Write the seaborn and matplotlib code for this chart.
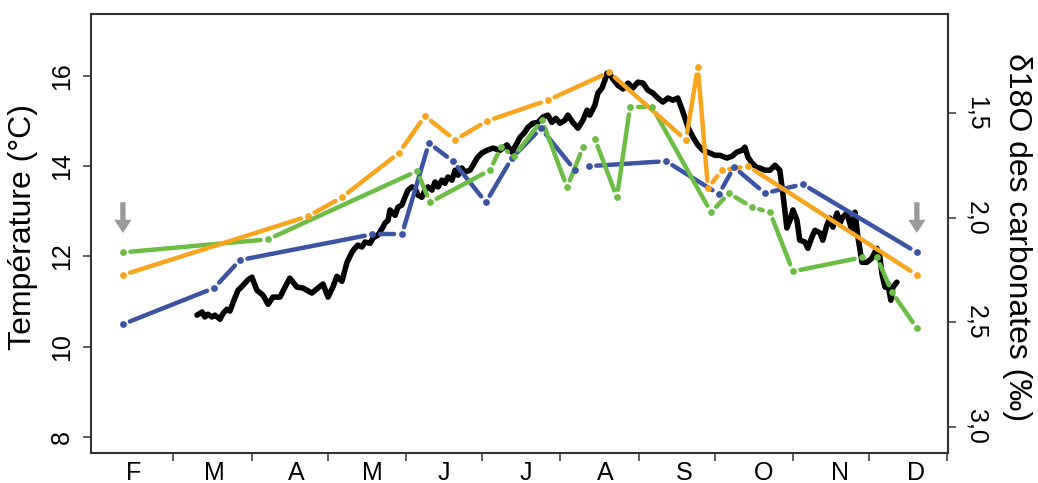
import numpy as np
import pandas as pd
import matplotlib
matplotlib.use("Agg")
import matplotlib.pyplot as plt
from matplotlib.patches import FancyArrowPatch
import seaborn as sns

# x: day of year (1 Jan = 0), y: temperature (°C)
black_day = [68.3, 70.3, 71.4, 72.6, 74.2, 75.4, 77.4, 78.6, 80.1, 81.3,
             82.9, 84.5, 86.5, 88.4, 90.0, 92.0, 94.4, 96.4, 98.3, 101.1,
             103.1, 105.0, 107.8, 110.2, 113.7, 115.7, 118.1, 120.1, 122.0, 123.6,
             125.6, 127.6, 129.6, 130.7, 131.9, 133.5, 134.7, 136.7, 137.9, 139.8,
             141.8, 142.6, 143.8, 144.6, 146.6, 147.7, 149.3, 150.5, 151.7, 153.3,
             154.5, 155.6, 157.2, 158.4, 159.6, 161.2, 162.4, 163.6, 165.1, 166.3,
             167.5, 169.1, 170.3, 171.5, 173.0, 174.2, 176.2, 177.4, 179.0, 180.9,
             182.9, 185.3, 188.1, 190.8, 192.8, 194.8, 196.0, 197.9, 199.1, 201.1,
             203.1, 205.1, 207.0, 208.6, 210.2, 211.8, 213.8, 214.9, 216.9, 218.9,
             220.9, 222.5, 223.6, 225.6, 226.8, 228.4, 229.6, 230.4, 231.5, 232.7,
             234.7, 236.7, 238.7, 240.6, 242.6, 244.6, 246.6, 248.5, 250.5, 252.5,
             254.5, 256.4, 258.4, 260.4, 262.4, 264.4, 266.3, 268.3, 271.1, 273.0,
             275.0, 277.8, 279.8, 281.7, 283.7, 284.9, 286.1, 287.7, 289.7, 290.8,
             292.8, 294.8, 296.8, 298.7, 299.9, 301.5, 302.7, 303.9, 305.5, 306.6,
             308.6, 309.8, 311.4, 312.6, 314.6, 315.7, 317.3, 318.5, 319.7, 321.3,
             322.5, 323.6, 325.2, 327.2, 328.4, 329.6, 331.2, 333.1, 335.1, 337.1,
             338.3, 339.1, 340.3, 341.4, 342.6, 343.4, 345.0]
black_temp = [10.70, 10.77, 10.66, 10.72, 10.66, 10.70, 10.61, 10.74, 10.83, 10.79,
              11.03, 11.25, 11.36, 11.48, 11.54, 11.25, 11.14, 10.94, 11.10, 11.10,
              11.32, 11.52, 11.32, 11.30, 11.19, 11.28, 11.39, 11.10, 11.32, 11.56,
              11.45, 11.87, 12.10, 12.18, 12.25, 12.21, 12.32, 12.29, 12.41, 12.47,
              12.65, 12.74, 12.80, 13.03, 12.91, 13.09, 13.14, 13.31, 13.47, 13.54,
              13.51, 13.36, 13.31, 13.47, 13.54, 13.47, 13.65, 13.54, 13.69, 13.62,
              13.76, 13.69, 13.91, 13.80, 13.96, 13.87, 13.91, 14.02, 14.18, 14.29,
              14.35, 14.40, 14.35, 14.47, 14.31, 14.51, 14.64, 14.75, 14.86, 14.95,
              14.97, 15.09, 15.13, 14.97, 15.06, 14.95, 15.02, 15.13, 14.97, 14.84,
              15.02, 15.24, 15.13, 15.35, 15.62, 15.73, 15.91, 16.06, 16.04, 15.93,
              15.79, 15.71, 15.84, 15.73, 15.86, 15.84, 15.68, 15.62, 15.51, 15.42,
              15.51, 15.46, 15.51, 15.20, 14.86, 14.64, 14.47, 14.35, 14.29, 14.24,
              14.24, 14.18, 14.22, 14.31, 14.35, 14.42, 14.20, 14.07, 13.96, 13.96,
              13.91, 13.91, 14.02, 13.91, 13.40, 12.63, 12.80, 13.03, 12.80, 12.36,
              12.32, 12.18, 12.43, 12.58, 12.52, 12.36, 12.69, 12.85, 12.65, 12.96,
              12.74, 12.87, 12.96, 12.58, 12.98, 12.43, 11.87, 11.87, 11.96, 12.18,
              11.98, 11.61, 11.32, 11.41, 11.03, 11.32, 11.43]

blue_day = [39.0, 75.0, 85.3, 137.5, 149.3, 160.0, 169.5, 182.5, 192.8, 204.3,
            217.7, 223.2, 253.7, 274.6, 280.6, 292.8, 307.8, 352.9]
blue_temp = [10.50, 11.30, 11.92, 12.49, 12.49, 14.51, 14.11, 13.20, 14.18, 14.84,
             13.91, 14.00, 14.11, 13.38, 13.98, 13.40, 13.60, 12.09]

green_day = [39.0, 96.4, 155.3, 160.4, 184.1, 188.5, 193.6, 204.7, 214.6, 220.9,
             225.6, 234.3, 239.5, 248.2, 271.5, 278.6, 287.7, 294.8, 303.9, 331.2,
             337.1, 343.0, 352.9]
green_temp = [12.09, 12.38, 13.89, 13.20, 13.91, 14.42, 14.22, 15.02, 13.53, 14.42,
              14.60, 13.31, 15.31, 15.31, 12.98, 13.40, 13.09, 12.98, 11.67, 11.98,
              11.98, 11.21, 10.41]

orange_day = [39.0, 112.2, 125.6, 148.1, 158.4, 170.3, 182.9, 207.0, 231.2, 261.6,
              266.3, 270.3, 275.8, 286.1, 352.9]
orange_temp = [11.59, 12.89, 13.31, 14.29, 15.11, 14.58, 15.00, 15.46, 16.08, 14.58,
               16.19, 13.51, 13.91, 14.00, 11.59]

arrow_day = [39.0, 352.9]
arrow_top, arrow_tip = 13.20, 12.52

month_bounds = [59, 90, 120, 151, 181, 212, 243, 273, 304, 334, 365]
month_label_pos = [43.4, 75.0, 107.4, 137.5, 165.9, 198.3, 229.6, 260.8, 292.4, 322.5, 352.5]
month_labels = ["F", "M", "A", "M", "J", "J", "A", "S", "O", "N", "D"]

temp_ticks = [8, 10, 12, 14, 16]
d18o_ticks = [1.5, 2.0, 2.5, 3.0]
d18o_labels = ["1,5", "2,0", "2,5", "3,0"]

# linear temperature / carbonate d18O relation used for the right-hand scale
D18O_REF, TEMP_REF, TEMP_PER_PERMIL = 1.5, 15.167, 4.627


def temp_to_d18o(t):
    return D18O_REF + (TEMP_REF - np.asarray(t, dtype=float)) / TEMP_PER_PERMIL


def d18o_to_temp(d):
    return TEMP_REF - (np.asarray(d, dtype=float) - D18O_REF) * TEMP_PER_PERMIL


COL_BLUE = "#3b54a4"
COL_GREEN = "#6bbd45"
COL_ORANGE = "#f7a51e"
COL_AXIS = "#333333"

sns.set_style("ticks")
plt.rcParams["font.family"] = ["Liberation Sans", "DejaVu Sans"]
plt.rcParams["text.color"] = "black"
plt.rcParams["xtick.color"] = COL_AXIS
plt.rcParams["ytick.color"] = COL_AXIS
plt.rcParams["xtick.labelcolor"] = "black"
plt.rcParams["ytick.labelcolor"] = "black"

fig = plt.figure(figsize=(10.38, 4.83), dpi=100)
ax = fig.add_axes([0.0877, 0.0615, 0.8256, 0.9095])
ax.set_xlim(26.4, 365.2)
ax.set_ylim(7.64, 17.37)


def gapped_segments(days, temps, gap_px=7.5):
    """Line pieces between successive points, stopped short of each point."""
    pts = ax.transData.transform(np.column_stack([days, temps]))
    inv = ax.transData.inverted()
    rows = []
    for i in range(len(pts) - 1):
        p0, p1 = pts[i], pts[i + 1]
        v = p1 - p0
        length = np.hypot(v[0], v[1])
        if length <= 2 * gap_px:
            continue
        u = v / length
        a = inv.transform(p0 + u * gap_px)
        b = inv.transform(p1 - u * gap_px)
        rows.append((i, a[0], a[1]))
        rows.append((i, b[0], b[1]))
    return pd.DataFrame(rows, columns=["seg", "day", "temp"])


# measured temperature record
sns.lineplot(x=black_day, y=black_temp, sort=False, estimator=None, color="black",
             lw=4.0, solid_joinstyle="round", solid_capstyle="round",
             ax=ax, legend=False, zorder=2)

# carbonate series: points joined by broken lines
for days, temps, col in [(blue_day, blue_temp, COL_BLUE),
                         (green_day, green_temp, COL_GREEN),
                         (orange_day, orange_temp, COL_ORANGE)]:
    seg = gapped_segments(days, temps)
    sns.lineplot(data=seg, x="day", y="temp", units="seg", estimator=None, sort=False,
                 color=col, lw=3.2, solid_capstyle="round", ax=ax, legend=False, zorder=3)
    sns.scatterplot(x=days, y=temps, color=col, s=24, linewidth=0, ax=ax,
                    legend=False, zorder=4)

for d in arrow_day:
    ax.add_patch(FancyArrowPatch((d, arrow_top), (d, arrow_tip),
                                 arrowstyle="simple,head_width=1.25,head_length=0.95,tail_width=0.38",
                                 mutation_scale=10, color="#9a9a9a", lw=0,
                                 shrinkA=0, shrinkB=0, zorder=5))

# axes, ticks and labels
for sp in ax.spines.values():
    sp.set_color(COL_AXIS)
    sp.set_linewidth(1.5)
    sp.set_visible(True)

ax.set_xlabel("")
ax.set_ylabel("")
ax.set_xticks(month_bounds)
ax.set_xticklabels([])
ax.set_xticks(month_label_pos, month_labels, minor=True)
ax.tick_params(axis="x", which="major", direction="out", length=6, width=1.1,
               color=COL_AXIS, bottom=True, top=False)
ax.tick_params(axis="x", which="minor", length=0, pad=5.5, labelsize=18,
               labelcolor="black")

ax.set_yticks(temp_ticks)
ax.set_yticklabels([str(t) for t in temp_ticks])
ax.tick_params(axis="y", direction="out", length=6, width=1.1, color=COL_AXIS,
               left=True, right=False, labelsize=18, labelrotation=90, pad=6,
               labelcolor="black")
for lbl in ax.get_yticklabels():
    lbl.set_va("center")

sec = ax.secondary_yaxis("right", functions=(temp_to_d18o, d18o_to_temp))
sec.set_yticks(d18o_ticks)
sec.set_yticklabels(d18o_labels)
sec.tick_params(axis="y", direction="out", length=6, width=1.1, color=COL_AXIS,
                labelsize=18, labelrotation=270, pad=6, labelcolor="black")
for lbl in sec.get_yticklabels():
    lbl.set_va("center")
sec.spines["right"].set_color(COL_AXIS)
sec.spines["right"].set_linewidth(1.5)

fig.text(23 / 1038, 0.531, "Température (°C)", rotation=90, ha="center", va="center",
         fontsize=23, color="black")
fig.text(1016.5 / 1038, 0.51, "δ18O des carbonates (‰)", rotation=270, ha="center",
         va="center", fontsize=23, color="black")

fig.savefig("out.png", dpi=100, facecolor="white")
